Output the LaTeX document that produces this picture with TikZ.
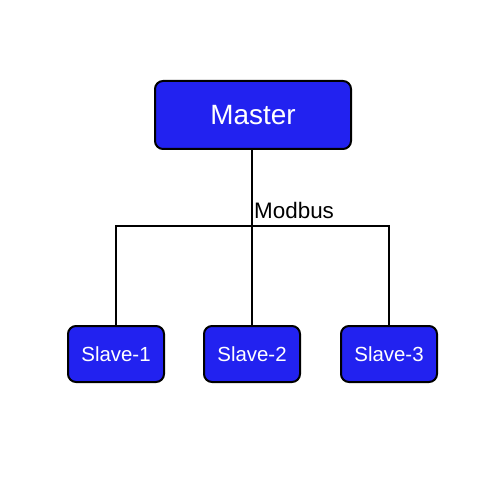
\documentclass[tikz,border=0pt]{standalone}
\usepackage{fontspec}
\setmainfont{Liberation Sans}
\definecolor{boxblue}{RGB}{34,34,240}
\begin{document}
\begin{tikzpicture}[x=1bp,y=-1bp,
  box/.style={draw=black,line width=2bp,fill=boxblue,rounded corners=8bp,text=white,inner sep=0pt,align=center},
  conn/.style={draw=black,line width=2bp}]
\useasboundingbox[fill=white] (0,0) rectangle (500,500);
\node[box,minimum width=196bp,minimum height=68bp,font=\fontsize{28}{32}\selectfont] (m) at (253,115) {Master};
\node[box,minimum width=96bp,minimum height=56bp,font=\fontsize{20.5}{24}\selectfont] (s1) at (116,354) {Slave-1};
\node[box,minimum width=96bp,minimum height=56bp,font=\fontsize{20.5}{24}\selectfont] (s2) at (252,354) {Slave-2};
\node[box,minimum width=96bp,minimum height=56bp,font=\fontsize{20.5}{24}\selectfont] (s3) at (389,354) {Slave-3};
\coordinate (bus) at (252,226);
\draw[conn] (m.south -| s2.north) -- (s2.north);
\draw[conn] (s1.north) -- (s1.north |- bus) -- (s3.north |- bus) -- (s3.north);
\node[anchor=base west,inner sep=0pt,font=\fontsize{22.5}{26}\selectfont] (lbl) at (254,218) {Modbus};
\end{tikzpicture}
\end{document}
